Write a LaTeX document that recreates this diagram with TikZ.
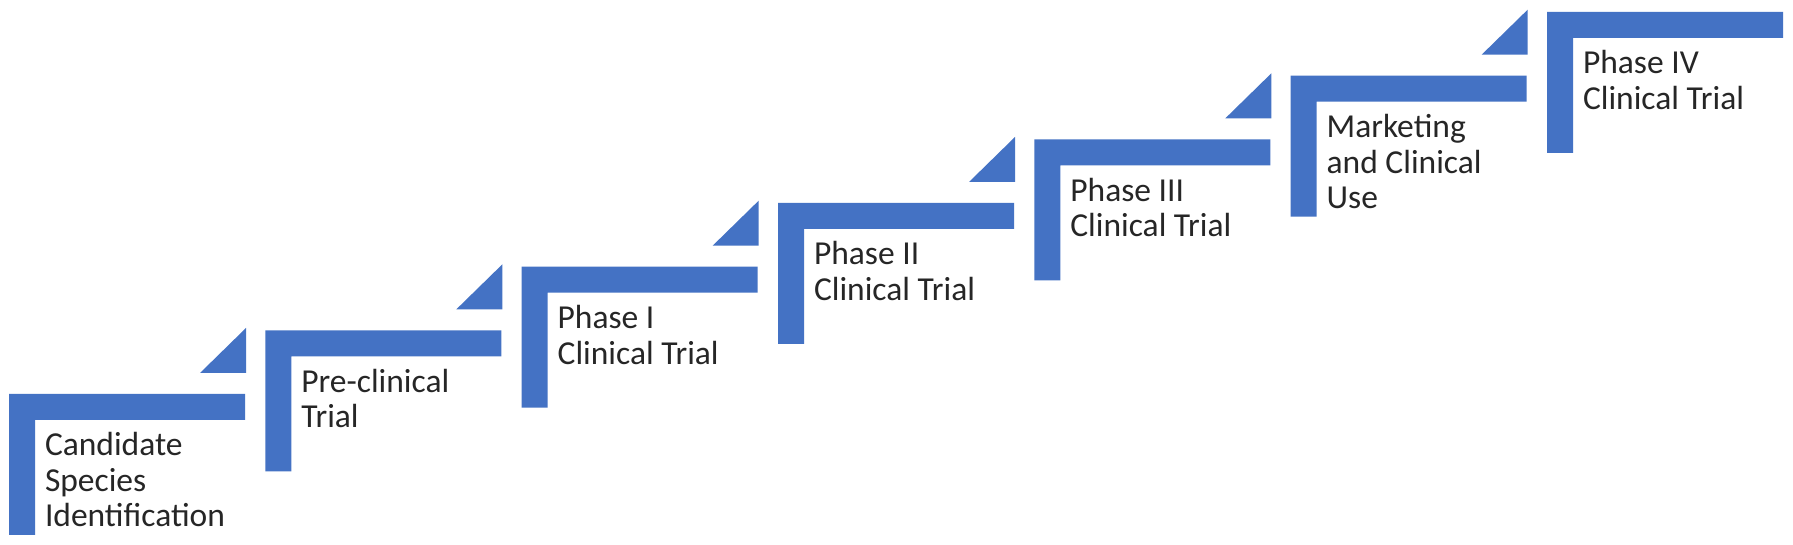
\documentclass[tikz,border=0pt]{standalone}
\usepackage{fontspec}
\setmainfont{Carlito}
\begin{document}
\begin{tikzpicture}[x=0.5pt,y=0.5pt,
  stepshape/.style={fill=stepColor,draw=none},
  steplabel/.style={text=textColor,anchor=base west,align=left,inner sep=0pt,outer sep=0pt,
    font=\fontsize{16.75}{17.7}\selectfont}]
\definecolor{fillColor}{RGB}{255,255,255}
\definecolor{stepColor}{RGB}{68,114,196}
\definecolor{textColor}{RGB}{38,38,38}
\path[use as bounding box,fill=fillColor] (0,0) rectangle (1793,545);
\begin{scope}

\path[stepshape] (   9.00, 10.00) -- (   9.00,151.00) -- ( 245.00,151.00) -- ( 245.00,125.00) -- (  35.00,125.00) -- (  35.00, 10.00) -- cycle;

\path[stepshape] ( 265.33, 73.67) -- ( 265.33,214.67) -- ( 501.33,214.67) -- ( 501.33,188.67) -- ( 291.33,188.67) -- ( 291.33, 73.67) -- cycle;

\path[stepshape] ( 521.67,137.33) -- ( 521.67,278.33) -- ( 757.67,278.33) -- ( 757.67,252.33) -- ( 547.67,252.33) -- ( 547.67,137.33) -- cycle;

\path[stepshape] ( 778.00,201.00) -- ( 778.00,342.00) -- (1014.00,342.00) -- (1014.00,316.00) -- ( 804.00,316.00) -- ( 804.00,201.00) -- cycle;

\path[stepshape] (1034.33,264.67) -- (1034.33,405.67) -- (1270.33,405.67) -- (1270.33,379.67) -- (1060.33,379.67) -- (1060.33,264.67) -- cycle;

\path[stepshape] (1290.67,328.33) -- (1290.67,469.33) -- (1526.67,469.33) -- (1526.67,443.33) -- (1316.67,443.33) -- (1316.67,328.33) -- cycle;

\path[stepshape] (1547.00,392.00) -- (1547.00,533.00) -- (1783.00,533.00) -- (1783.00,507.00) -- (1573.00,507.00) -- (1573.00,392.00) -- cycle;
\end{scope}
\begin{scope}

\path[stepshape] ( 200.00,172.00) -- ( 246.00,172.00) -- ( 246.00,217.00) -- cycle;

\path[stepshape] ( 456.33,235.67) -- ( 502.33,235.67) -- ( 502.33,280.67) -- cycle;

\path[stepshape] ( 712.67,299.33) -- ( 758.67,299.33) -- ( 758.67,344.33) -- cycle;

\path[stepshape] ( 969.00,363.00) -- (1015.00,363.00) -- (1015.00,408.00) -- cycle;

\path[stepshape] (1225.33,426.67) -- (1271.33,426.67) -- (1271.33,471.67) -- cycle;

\path[stepshape] (1481.67,490.33) -- (1527.67,490.33) -- (1527.67,535.33) -- cycle;
\end{scope}
\begin{scope}

\node[steplabel] (candidate) at (  45.00, 18.20) {Candidate\\Species\\Identification};

\node[steplabel] (preclinical) at ( 301.33,117.27) {Pre-clinical\\Trial};

\node[steplabel] (phaseone) at ( 557.67,180.93) {Phase I\\Clinical Trial};

\node[steplabel] (phasetwo) at ( 814.00,244.60) {Phase II\\Clinical Trial};

\node[steplabel] (phasethree) at (1070.33,308.27) {Phase III\\Clinical Trial};

\node[steplabel] (marketing) at (1326.67,336.53) {Marketing\\and Clinical\\Use};

\node[steplabel] (phasefour) at (1583.00,435.60) {Phase IV\\Clinical Trial};
\end{scope}
\end{tikzpicture}
\end{document}
